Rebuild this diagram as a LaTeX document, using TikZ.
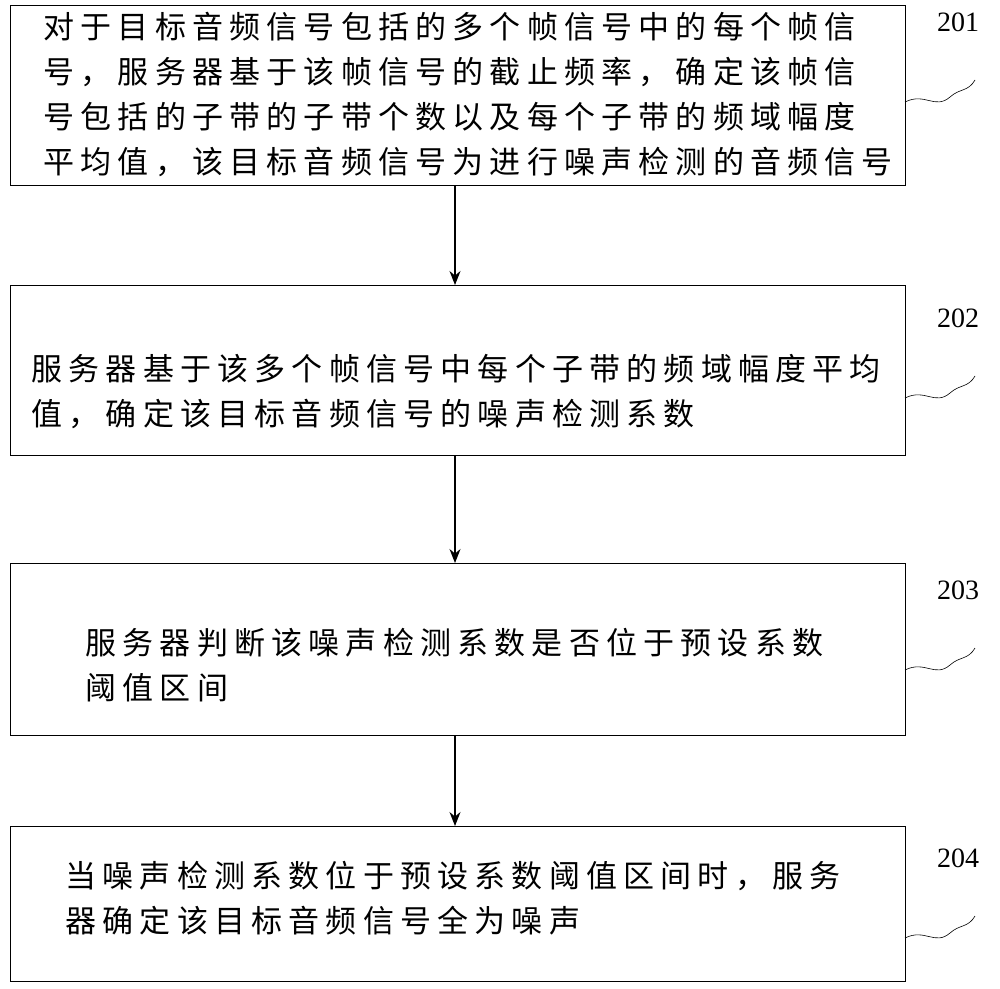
\documentclass[tikz,border=0pt]{standalone}
\usepackage{fontspec}
\setmainfont{Liberation Serif}
\newfontfamily\cjk[LetterSpace=20]{Noto Sans CJK SC}
\usetikzlibrary{arrows.meta}
\begin{document}
\begin{tikzpicture}[x=1pt,y=-1pt,
  stepbox/.style={draw,line width=1pt,minimum width=895pt,anchor=north west,inner sep=0pt},
  txt/.style={anchor=west,align=left,font=\cjk\fontsize{31}{45}\selectfont},
  lbl/.style={font=\fontsize{28}{30}\selectfont},
  arr/.style={-{Stealth[length=14pt,width=11pt]},line width=1.2pt}]
\useasboundingbox (0,0) rectangle (1000,988);
\node[stepbox,minimum height=180pt] (b1) at (10,5) {};
\node[stepbox,minimum height=170pt] (b2) at (10,285) {};
\node[stepbox,minimum height=172pt] (b3) at (10,563) {};
\node[stepbox,minimum height=155pt] (b4) at (10,826) {};
\node[txt] (t1) at (40,95) {对于目标音频信号包括的多个帧信号中的每个帧信\\号，服务器基于该帧信号的截止频率，确定该帧信\\号包括的子带的子带个数以及每个子带的频域幅度\\平均值，该目标音频信号为进行噪声检测的音频信号};
\node[txt] (t2) at (28,392) {服务器基于该多个帧信号中每个子带的频域幅度平均\\值，确定该目标音频信号的噪声检测系数};
\node[txt] (t3) at (82,665) {服务器判断该噪声检测系数是否位于预设系数\\阈值区间};
\node[txt] (t4) at (62,898) {当噪声检测系数位于预设系数阈值区间时，服务\\器确定该目标音频信号全为噪声};
\draw[arr] (b1.south -| 455,0) -- (b2.north -| 455,0);
\draw[arr] (b2.south -| 455,0) -- (b3.north -| 455,0);
\draw[arr] (b3.south -| 455,0) -- (b4.north -| 455,0);
\foreach \n/\y in {201/22,202/318,203/590,204/858}{
  \node[lbl] (l\n) at (958,\y) {\n};
  \draw[line width=0.6pt] (905,\y+80) .. controls (925,\y+70) and (935,\y+88) .. (950,\y+75) .. controls (960,\y+66) and (968,\y+70) .. (975,\y+58);
}
\end{tikzpicture}
\end{document}
